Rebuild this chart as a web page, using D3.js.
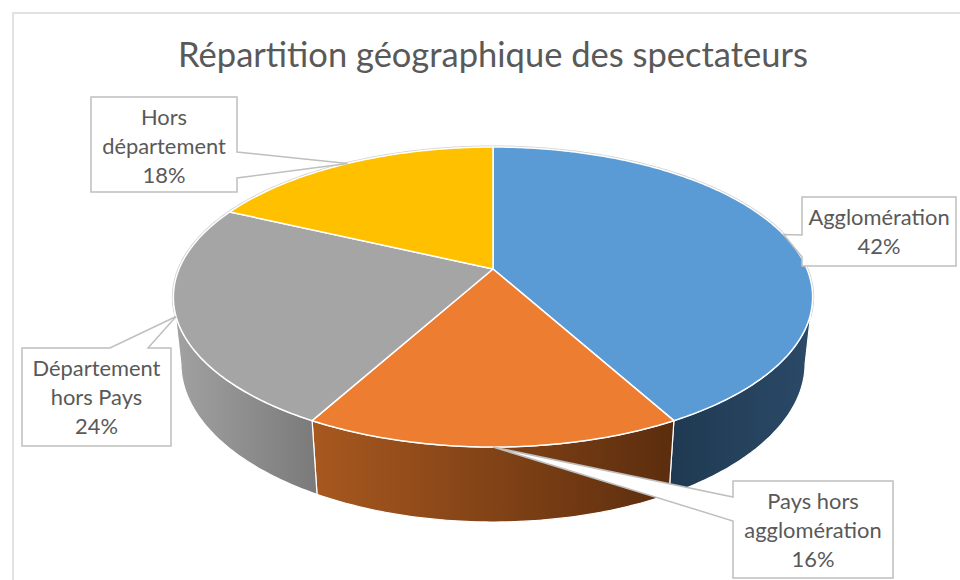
<!DOCTYPE html>
<html>
<head>
<meta charset="utf-8">
<script src="https://cdn.jsdelivr.net/npm/d3@7"></script>
<style>
  body { margin: 0; background: #fff; }
  svg { display: block; font-family: Lato, "Open Sans", sans-serif; }
</style>
</head>
<body>
<div id="chart"></div>
<script>
// data
var categories = ["Agglomération", "Pays hors agglomération", "Département hors Pays", "Hors département"];
var values = [42, 16, 24, 18];
var nameLines = [["Agglomération"], ["Pays hors", "agglomération"], ["Département", "hors Pays"], ["Hors", "département"]];
var title = "Répartition géographique des spectateurs";

// excel office theme colours
var topColors = ["#5b9bd5", "#ed7d31", "#a5a5a5", "#ffc000"];
var sideColors = [["#1f3951", "#2b4a68"], ["#a8581f", "#5b2d0e"], ["#a2a2a2", "#7a7a7a"], ["#b38700", "#8a6800"]];

var width = 960, height = 580;

var svg = d3.select("#chart").append("svg")
    .attr("width", width)
    .attr("height", height);

var defs = svg.append("defs");

// chart frame (runs off the right and bottom of the picture)
svg.append("rect")
    .attr("x", 13).attr("y", 13)
    .attr("width", 1000).attr("height", 700)
    .attr("fill", "#fff")
    .attr("stroke", "#d9d9d9")
    .attr("stroke-width", 1.5);

/*** 3D PIE PROJECTION */
var cx = 493, cy = 269;     // where the slices meet
var S = 314;                // radius in px
var tilt = Math.asin(0.461);
var persp = 4.75;           // camera distance (in radii)
var thick = 0.24;           // pie thickness (in radii)

function proj(r, a, yUp) {
    var x3 = r * Math.sin(a), z3 = r * Math.cos(a);
    var Y = yUp * Math.cos(tilt) + z3 * Math.sin(tilt);
    var D = z3 * Math.cos(tilt) - yUp * Math.sin(tilt);
    var s = persp / (persp + D);
    return [cx + S * x3 * s, cy - S * Y * s];
}

function arcPoints(a0, a1, yUp) {
    var n = Math.max(2, Math.ceil(Math.abs(a1 - a0) / (Math.PI / 240)));
    var pts = [];
    for (var i = 0; i <= n; i++) pts.push(proj(1, a0 + (a1 - a0) * i / n, yUp));
    return pts;
}

var pie = d3.pie().sort(null).value(function(d) { return d; });
var arcs = pie(values);
var total = d3.sum(values);
var pct = d3.format(".0%");

var line = d3.line();

// silhouette angles of the cylinder wall
var silA = Math.acos(-Math.cos(tilt) / persp);
var silB = 2 * Math.PI - silA;

// light rim behind the top face
svg.append("path")
    .attr("d", line(arcPoints(0, 2 * Math.PI, 0)) + "Z")
    .attr("fill", "none")
    .attr("stroke", "#d0d0d0")
    .attr("stroke-width", 3);

// side walls
var walls = svg.append("g").attr("class", "walls");
arcs.forEach(function(d, i) {
    var a0 = Math.max(d.startAngle, silA), a1 = Math.min(d.endAngle, silB);
    if (a1 <= a0) return;
    var topPts = arcPoints(a0, a1, 0);
    var botPts = arcPoints(a1, a0, -thick);
    var pts = topPts.concat(botPts);
    var xs = pts.map(function(p) { return p[0]; });
    var g = defs.append("linearGradient")
        .attr("id", "side" + i)
        .attr("gradientUnits", "userSpaceOnUse")
        .attr("x1", d3.min(xs)).attr("x2", d3.max(xs))
        .attr("y1", 0).attr("y2", 0);
    g.append("stop").attr("offset", 0).attr("stop-color", sideColors[i][0]);
    g.append("stop").attr("offset", 1).attr("stop-color", sideColors[i][1]);
    walls.append("path")
        .attr("d", line(pts) + "Z")
        .attr("fill", "url(#side" + i + ")")
        .attr("stroke", "#fff")
        .attr("stroke-width", 1.2)
        .attr("stroke-linejoin", "round");
});

// top faces
svg.append("g").attr("class", "tops")
    .selectAll("path")
    .data(arcs)
    .enter()
    .append("path")
    .attr("d", function(d) {
        return line([[cx, cy]].concat(arcPoints(d.startAngle, d.endAngle, 0))) + "Z";
    })
    .attr("fill", function(d, i) { return topColors[i]; })
    .attr("stroke", "#fff")
    .attr("stroke-width", 1.5)
    .attr("stroke-linejoin", "round");

/*** TEXT SIZES (fit to the reference's measured widths) */
function measure(str, size) {
    var t = svg.append("text").attr("font-size", size).text(str);
    var w = t.node().getComputedTextLength();
    t.remove();
    return w;
}
var titleSize = 30 * 630 / measure(title, 30);
var labelSize = 20 * 128 / measure("Département", 20);

/*** CALLOUTS */
// box layout: rectangle, edge of the pointer, pointer centre along that edge, pointer half width
var callouts = [
    {x: 802, y: 197, w: 154, h: 69, side: "left",  c: 246, half: 11},
    {x: 733, y: 481, w: 160, h: 97, side: "left",  c: 509, half: 12},
    {x: 22,  y: 348, w: 149, h: 98, side: "top",   c: 129, half: 19},
    {x: 91,  y: 97,  w: 146, h: 95, side: "right", c: 165, half: 13}
];

function calloutPath(b, tip) {
    var x0 = b.x, y0 = b.y, x1 = b.x + b.w, y1 = b.y + b.h;
    var pts = [[x0, y0]];
    if (b.side == "top") pts.push([b.c - b.half, y0], tip, [b.c + b.half, y0]);
    pts.push([x1, y0]);
    if (b.side == "right") pts.push([x1, b.c - b.half], tip, [x1, b.c + b.half]);
    pts.push([x1, y1], [x0, y1]);
    if (b.side == "left") pts.push([x0, b.c + b.half], tip, [x0, b.c - b.half]);
    return line(pts) + "Z";
}

var labels = svg.append("g").attr("class", "labels");
arcs.forEach(function(d, i) {
    var b = callouts[i];
    var mid = (d.startAngle + d.endAngle) / 2;
    var tip = proj(1, mid, 0);
    labels.append("path")
        .attr("d", calloutPath(b, tip))
        .attr("fill", "#fff")
        .attr("stroke", "#bfbfbf")
        .attr("stroke-width", 1.5)
        .attr("stroke-linejoin", "miter");

    var lines = nameLines[i].concat([pct(d.data / total)]);
    var t = labels.append("text")
        .attr("text-anchor", "middle")
        .attr("font-size", labelSize)
        .attr("fill", "#595959");
    lines.forEach(function(l, k) {
        t.append("tspan")
            .attr("x", b.x + b.w / 2)
            .attr("y", b.y + 27.5 + 29 * k)
            .text(l);
    });
});

/*** TITLE */
svg.append("text")
    .attr("x", 493)
    .attr("y", 67)
    .attr("text-anchor", "middle")
    .attr("font-size", titleSize)
    .attr("fill", "#595959")
    .text(title);
</script>
</body>
</html>
